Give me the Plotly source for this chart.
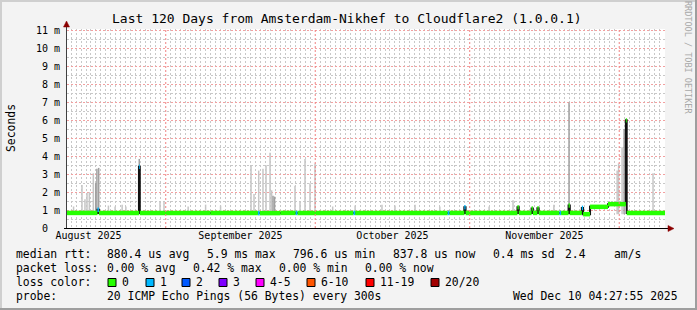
import plotly.graph_objects as go

# ---------------- canvas geometry ----------------
W, H = 697, 310
L, R, T, B = 67, 32, 29, 82
PW, PH = W - L - R, H - T - B

def fx(px):
    return (px - L) / PW

def fy(py):
    return (H - B - py) / PH

# ---------------- data ----------------
t_start = "2025-08-12 04:27:55"
t_end = "2025-12-10 04:27:55"
y_top = 11.09

y_tick_vals = [0, 1, 2, 3, 4, 5, 6, 7, 8, 9, 10, 11]
y_tick_text = ["0\u00a0\u00a0", "1 m", "2 m", "3 m", "4 m", "5 m", "6 m", "7 m", "8 m", "9 m", "10 m", "11 m"]
month_starts = ["2025-09-01", "2025-10-01", "2025-11-01", "2025-12-01"]

med_time = [
    "2025-08-12 04:27", "2025-08-18 07:00", "2025-08-18 14:00", "2025-08-26 15:00",
    "2025-08-26 19:00", "2025-09-10 00:00", "2025-09-19 12:00", "2025-09-19 20:00",
    "2025-09-24 00:00", "2025-09-27 02:00", "2025-09-27 10:00", "2025-10-08 16:00",
    "2025-10-09 00:00", "2025-10-27 14:00", "2025-10-27 22:00", "2025-10-30 22:00",
    "2025-10-31 04:00", "2025-11-10 14:00", "2025-11-10 20:00", "2025-11-13 10:00",
    "2025-11-13 16:00", "2025-11-14 14:00", "2025-11-14 20:00", "2025-11-19 00:00",
    "2025-11-19 08:00", "2025-11-20 20:00", "2025-11-21 02:00", "2025-11-23 12:00",
    "2025-11-23 18:00", "2025-11-25 03:30", "2025-11-28 18:00", "2025-12-02 08:00",
    "2025-12-02 12:00",
]
med_val = [
    0.84, 1.02, 0.84, 3.42,
    0.84, 0.83, 0.83, 0.83,
    0.84, 0.84, 0.84, 0.84,
    0.84, 0.84, 0.84, 1.15,
    0.84, 1.15, 0.84, 1.08,
    0.84, 1.10, 0.84, 0.84,
    0.84, 1.25, 0.84, 1.12,
    0.77, 1.18, 1.33, 6.00,
    0.84,
]
med_loss = [
    0, 1, 0, 1,
    0, 0, 1, 0,
    0, 1, 0, 1,
    0, 1, 0, 1,
    0, 0, 0, 0,
    0, 0, 0, 1,
    0, 0, 0, 1,
    0, 0, 0, 0,
    0,
]

smoke_light_time = [
    "2025-08-13 12:00", "2025-08-15 04:40", "2025-08-15 19:00", "2025-08-16 04:50",
    "2025-08-16 16:00", "2025-08-17 11:10", "2025-08-20 12:00", "2025-08-21 20:00",
    "2025-08-23 06:00", "2025-08-24 00:00", "2025-08-30 20:20", "2025-08-31 15:40",
    "2025-09-05 12:00", "2025-09-09 00:00", "2025-09-12 00:00", "2025-09-18 02:50",
    "2025-09-18 17:10", "2025-09-19 15:45", "2025-09-20 12:20", "2025-09-21 03:00",
    "2025-09-21 22:15", "2025-09-22 06:00", "2025-09-26 22:30", "2025-09-27 22:40",
    "2025-09-28 22:40", "2025-09-29 22:40", "2025-09-30 22:55", "2025-10-04 12:00",
    "2025-10-09 00:00", "2025-10-14 09:20", "2025-10-17 00:00", "2025-10-21 00:40",
    "2025-10-26 00:00", "2025-11-04 21:20", "2025-11-09 16:30", "2025-11-17 21:20",
    "2025-11-30 14:00", "2025-11-30 21:00", "2025-12-01 13:45", "2025-12-07 18:50",
]
smoke_light_top = [
    1.20, 2.40, 1.60, 1.95,
    2.00, 3.05, 1.25, 1.20,
    1.30, 1.20, 1.50, 1.50,
    1.20, 1.30, 1.25, 3.50,
    1.90, 3.20, 3.30, 3.50,
    4.20, 2.10, 2.35, 1.50,
    3.85, 2.50, 3.60, 1.20,
    1.25, 1.30, 1.25, 1.30,
    1.20, 1.20, 1.55, 1.30,
    3.20, 3.60, 4.50, 3.05,
]
smoke_dark_time = [
    "2025-08-17 22:40", "2025-08-18 04:30", "2025-08-18 13:10", "2025-08-26 16:30",
    "2025-09-22 12:40", "2025-09-22 20:00", "2025-11-20 22:15", "2025-12-01 23:30",
]
smoke_dark_top = [
    2.50, 3.30, 3.35, 3.85,
    1.80, 1.75, 7.00, 5.50,
]

loss_labels = ["0", "1", "2", "3", "4-5", "6-10", "11-19", "20/20"]
loss_colors = ["#26ff00", "#00b8ff", "#0059ff", "#7e00ff", "#ff00ff", "#ff5500", "#ff0000", "#a10000"]

legend_rtt = [("median rtt:", 16), ("880.4 us avg", 107), ("5.9 ms max", 207), ("796.6 us min", 293),
              ("837.8 us now", 393), ("0.4 ms sd", 493), ("2.4", 565), ("am/s", 614)]
legend_loss = [("packet loss:", 16), ("0.00 % avg", 107), ("0.42 % max", 193), ("0.00 % min", 279),
               ("0.00 % now", 365)]
legend_probe = [("probe:", 16), ("20 ICMP Echo Pings (56 Bytes) every 300s", 107),
                ("Wed Dec 10 04:27:55 2025", 513)]
loss_box_x = [108, 146, 182, 219, 256, 307, 366, 431]

title = "Last 120 Days from Amsterdam-Nikhef to Cloudflare2 (1.0.0.1)"

MONO = "DejaVu Sans Mono"

# ---------------- traces ----------------
fig = go.Figure()

base = min(med_val)

def spikes(times, tops):
    xs, ys = [], []
    for t, v in zip(times, tops):
        xs += [t, t, None]
        ys += [base, v, None]
    return xs, ys

sx, sy = spikes(smoke_light_time, smoke_light_top)
fig.add_trace(go.Scatter(x=sx, y=sy, mode="lines", line=dict(color="#c6c6c6", width=1.5),
                         hoverinfo="skip", showlegend=False))
sx, sy = spikes(smoke_dark_time, smoke_dark_top)
fig.add_trace(go.Scatter(x=sx, y=sy, mode="lines", line=dict(color="#a0a0a0", width=1.5),
                         hoverinfo="skip", showlegend=False))

fig.add_trace(go.Scatter(x=med_time + [t_end], y=med_val + [med_val[-1]], mode="lines",
                         line=dict(color="#111111", width=2, shape="hv"),
                         hoverinfo="skip", showlegend=False))

ends = med_time[1:] + [t_end]
for k in sorted(set(med_loss)):
    xs, ys = [], []
    for t0, t1, v, lk in zip(med_time, ends, med_val, med_loss):
        if lk == k:
            xs += [t0, t1, None]
            ys += [v, v, None]
    fig.add_trace(go.Scatter(x=xs, y=ys, mode="lines",
                             line=dict(color=loss_colors[k], width=4.5),
                             hoverinfo="skip", showlegend=False))

# ---------------- layout ----------------
major_grid = "rgb(242,160,160)"
minor_grid = "rgb(200,200,200)"

fig.update_layout(
    width=W, height=H,
    margin=dict(l=L, r=R, t=T, b=B, pad=0),
    paper_bgcolor="#f3f3f3",
    plot_bgcolor="#ffffff",
    showlegend=False,
    font=dict(family=MONO, color="#000000", size=10),
    xaxis=dict(
        type="date", range=[t_start, t_end],
        dtick="M1", tick0="2025-08-01", ticklabelmode="period", tickformat="%B %Y",
        showgrid=False,
        minor=dict(dtick=86400000, tick0="2025-08-01", showgrid=True,
                   gridcolor=minor_grid, griddash="2px,2px", gridwidth=1),
        ticks="", showline=False, zeroline=False,
        tickfont=dict(family=MONO, size=10, color="#000000"),
        fixedrange=True,
    ),
    yaxis=dict(
        range=[0, y_top], tickvals=y_tick_vals, ticktext=y_tick_text,
        showgrid=True, gridcolor=major_grid, griddash="2px,2px", gridwidth=1,
        minor=dict(dtick=0.5, showgrid=True, gridcolor=minor_grid, griddash="2px,2px", gridwidth=1),
        ticks="outside", ticklen=4, tickcolor="rgba(0,0,0,0)",
        showline=False, zeroline=False,
        tickfont=dict(family=MONO, size=10, color="#000000"),
        fixedrange=True,
    ),
)

shapes = []
# month boundary grid lines
for m in month_starts:
    shapes.append(dict(type="line", xref="x", yref="paper", x0=m, x1=m, y0=0, y1=1, layer="above",
                       line=dict(color="rgb(240,130,130)", width=1, dash="2px,2px")))
shapes.append(dict(type="line", xref="paper", yref="paper", x0=fx(L - 0.5), x1=fx(L - 0.5),
                   y0=fy(228), y1=fy(25), line=dict(color="#404040", width=1)))
shapes.append(dict(type="line", xref="paper", yref="paper", x0=fx(L - 3), x1=fx(669),
                   y0=fy(228.5), y1=fy(228.5), line=dict(color="#000000", width=1)))
shapes.append(dict(type="path", xref="paper", yref="paper",
                   path="M {a},{b} L {c},{b} L {d},{e} Z".format(
                       a=fx(L - 3.5), b=fy(27), c=fx(L + 2.5), d=fx(L - 0.5), e=fy(21)),
                   fillcolor="#8b0000", line=dict(color="#8b0000", width=0.5)))
shapes.append(dict(type="path", xref="paper", yref="paper",
                   path="M {a},{b} L {a},{c} L {d},{e} Z".format(
                       a=fx(668), b=fy(225.5), c=fy(231.5), d=fx(674), e=fy(228.5)),
                   fillcolor="#8b0000", line=dict(color="#8b0000", width=0.5)))
shapes.append(dict(type="line", xref="paper", yref="paper", x0=fx(0), x1=fx(W), y0=fy(1), y1=fy(1),
                   line=dict(color="#cfcfcf", width=2)))
shapes.append(dict(type="line", xref="paper", yref="paper", x0=fx(1), x1=fx(1), y0=fy(0), y1=fy(H),
                   line=dict(color="#cfcfcf", width=2)))
shapes.append(dict(type="line", xref="paper", yref="paper", x0=fx(0), x1=fx(W), y0=fy(H - 1), y1=fy(H - 1),
                   line=dict(color="#9e9e9e", width=2)))
shapes.append(dict(type="line", xref="paper", yref="paper", x0=fx(W - 1), x1=fx(W - 1), y0=fy(0), y1=fy(H),
                   line=dict(color="#9e9e9e", width=2)))
for bx, col in zip(loss_box_x, loss_colors):
    shapes.append(dict(type="rect", xref="paper", yref="paper",
                       x0=fx(bx), x1=fx(bx + 8), y0=fy(286.5), y1=fy(278.5),
                       fillcolor=col, line=dict(color="#000000", width=1)))

annotations = []

def text(s, px, py, size=11.4, xanchor="left", color="#000000", angle=0):
    annotations.append(dict(text=s, x=fx(px), y=fy(py), xref="paper", yref="paper",
                            xanchor=xanchor, yanchor="middle", showarrow=False, borderpad=0,
                            textangle=angle,
                            font=dict(family=MONO, size=size, color=color)))

text(title, 346.5, 18, size=13, xanchor="center")
text("Seconds", 11, 128, size=11.4, xanchor="center", angle=-90)
text("RRDTOOL / TOBI OETIKER", 688, 57, size=8.5, xanchor="center", color="#a8a8a8", angle=90)
for s, px in legend_rtt:
    text(s, px - 1, 254)
for s, px in legend_loss:
    text(s, px - 1, 268)
text("loss color:", 15, 282)
for bx, lab in zip(loss_box_x, loss_labels):
    text(lab, bx + 13, 282)
for s, px in legend_probe:
    text(s, px - 1, 296)

fig.update_layout(shapes=shapes, annotations=annotations)

fig.write_html("out.html")
